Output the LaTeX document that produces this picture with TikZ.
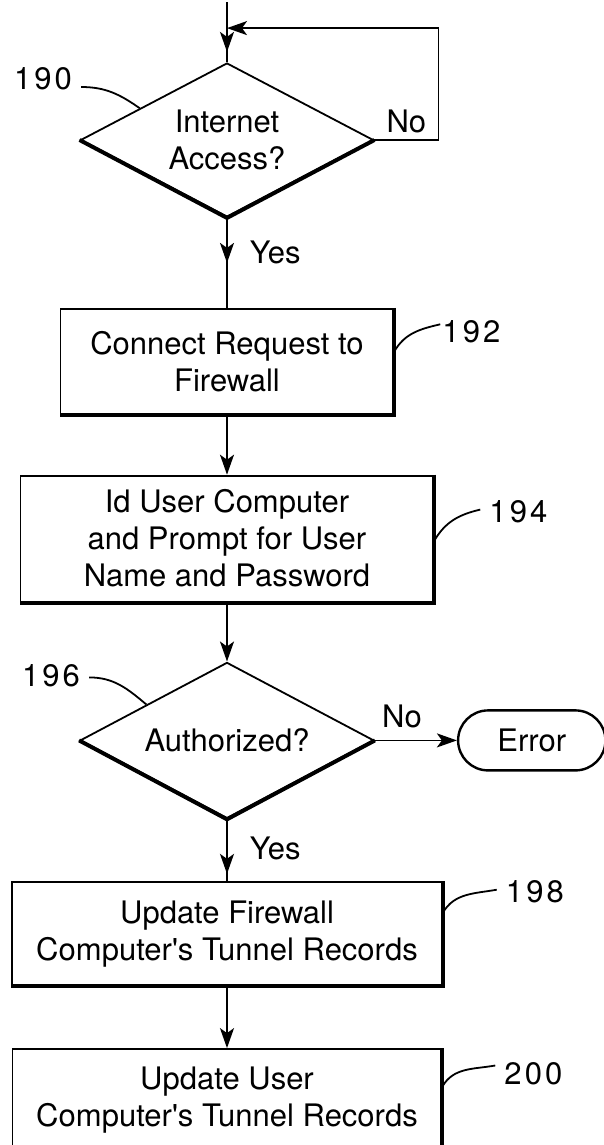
\documentclass[tikz,border=0pt]{standalone}
\usepackage{fontspec}
\setmainfont{TeX Gyre Heros}
\newfontfamily\numfont[LetterSpace=10]{TeX Gyre Heros}
\usetikzlibrary{shapes.geometric,shapes.misc,positioning,arrows.meta,decorations.markings}
\tikzset{
	>={Stealth[length=20pt,width=14pt,inset=5pt]},
	proc/.style={rectangle, draw, line width=1.8pt, align=center, 
		font=\fontsize{31}{37}\selectfont, inner sep=0pt},
	decision/.style={diamond, draw, line width=1.8pt, align=center, 
		font=\fontsize{31}{37}\selectfont, inner sep=0pt, shape aspect=1.9},
	term/.style={rounded rectangle, draw, line width=2.4pt, 
		font=\fontsize{31}{37}\selectfont, minimum width=154pt, minimum height=60pt},
	refnum/.style={font=\numfont\fontsize{31}{37}\selectfont, inner xsep=9pt, inner ysep=2pt},
	lbl/.style={font=\fontsize{31}{37}\selectfont, inner sep=2pt},
	heavy/.style={line width=4pt},
	lead/.style={line width=1.8pt},
	flow/.style={line width=1.8pt},
	midflow/.style={flow, postaction={decorate}, 
		decoration={markings, mark=at position #1 with {\arrow{>}}}}
}

\begin{document}
\begin{tikzpicture}[node distance=60pt]
	\useasboundingbox (0,0) rectangle (604pt,-1145pt);

	\node[decision, minimum width=293pt, minimum height=154pt] (d190) at (227pt,-140pt) {Internet\\Access?};
	\node[proc, minimum width=333pt, minimum height=105pt, below=90pt of d190] (b192) {Connect Request to\\Firewall};
	\node[proc, minimum width=413pt, minimum height=126pt, below=60pt of b192] (b194) {Id User Computer\\and Prompt for User\\Name and Password};
	\node[decision, minimum width=294pt, minimum height=156pt, below=59pt of b194] (d196) {Authorized?};
	\node[term, right=82pt of d196] (error) {Error};
	\node[proc, minimum width=430pt, minimum height=103pt, below=62pt of d196] (b198) {Update Firewall\\Computer\textquotesingle s Tunnel Records};
	\node[proc, minimum width=429pt, minimum height=103pt, below=62pt of b198] (b200) {Update User\\Computer\textquotesingle s Tunnel Records};

	\node[refnum] (l190) at ([xshift=-184pt,yshift=61pt]d190.center) {190};
	\node[refnum] (l192) at ([xshift=77pt,yshift=30pt]b192.east) {192};
	\node[refnum] (l194) at ([xshift=84pt,yshift=27pt]b194.east) {194};
	\node[refnum] (l196) at ([xshift=-176pt,yshift=65pt]d196.center) {196};
	\node[refnum] (l198) at ([xshift=92pt,yshift=42pt]b198.east) {198};
	\node[refnum] (l200) at ([xshift=91pt,yshift=27pt]b200.east) {200};

	\coordinate[above=60pt of d190.north] (start);
	\coordinate[above=34pt of d190.north] (join);

	\foreach \b in {b192,b194,b198,b200}
		\draw[heavy] (\b.north east) -- (\b.south east) -- (\b.south west);
	\foreach \d in {d190,d196}
		\draw[heavy] (\d.west) -- (\d.south) -- (\d.east);

	\draw[midflow=0.83] (start) -- (d190.north);
	\draw[flow,->] (d190.east) -- node[lbl, above=4pt] {No} ++(64pt,0) |- (join);
	\draw[midflow=0.5] (d190) -- node[lbl, right=20pt, pos=0.38] {Yes} (b192);
	\draw[flow,->] (b192) -- (b194);
	\draw[flow,->] (b194) -- (d196);
	\draw[flow,->] (d196) -- node[lbl, above=10pt, pos=0.33] {No} (error);
	\draw[midflow=0.88] (d196) -- node[lbl, right=20pt, pos=0.47] {Yes} (b198);
	\draw[flow,->] (b198) -- (b200);

	\draw[lead] ([yshift=-8pt]l190.east) to[out=0,in=145] (d190.160);
	\draw[lead] ([yshift=10pt]b192.east) to[out=60,in=193] ([xshift=7pt,yshift=7pt]l192.west);
	\draw[lead] ([yshift=-2pt]b194.east) to[out=60,in=193] ([yshift=2pt]l194.west);
	\draw[lead] ([yshift=-2pt]l196.east) to[out=0,in=140] (d196.156);
	\draw[lead] ([yshift=21pt]b198.east) to[out=60,in=190] ([yshift=2pt]l198.west);
	\draw[lead] ([yshift=14pt]b200.east) to[out=60,in=190] ([yshift=8pt]l200.west);
\end{tikzpicture}
\end{document}
